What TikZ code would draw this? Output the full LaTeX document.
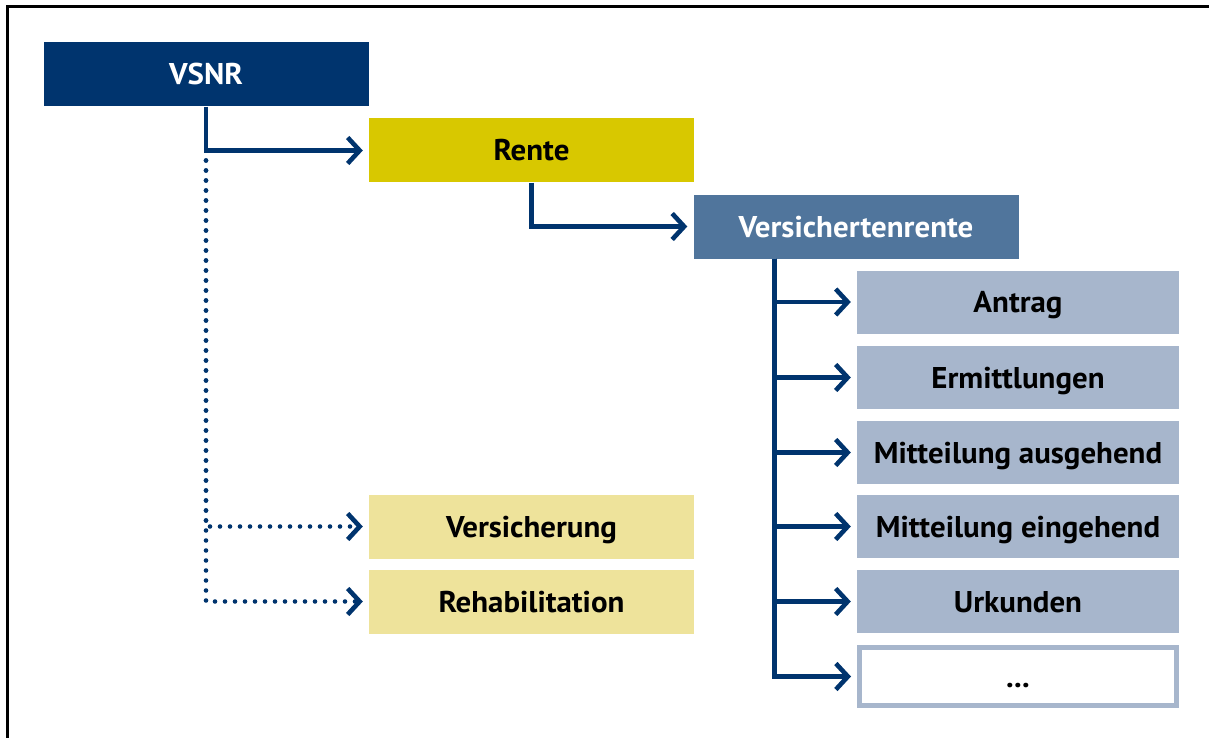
\documentclass[tikz,border=0pt]{standalone}
\usepackage{fontspec}
\setsansfont{PT Sans}
\usetikzlibrary{arrows.meta}
\definecolor{navy}{RGB}{0,52,110}
\definecolor{renteyellow}{RGB}{216,200,0}
\definecolor{paleyellow}{RGB}{238,227,155}
\definecolor{midblue}{RGB}{80,117,156}
\definecolor{lightblue}{RGB}{167,182,204}
\newcommand{\lbl}[1]{\scalebox{1.03}[1]{#1}}
\tikzset{
  box/.style={rectangle, inner sep=0pt, minimum width=325pt, minimum height=64pt,
    font=\sffamily\bfseries\fontsize{30}{34}\selectfont, text height=21pt, text depth=0pt},
  leaf/.style={box, minimum width=322pt, minimum height=63pt, fill=lightblue, text=black},
  conn/.style={draw=navy, line width=4.6pt, shorten >=6pt,
    -{Straight Barb[length=12pt, width=26pt, line width=4.6pt]}},
  dotconn/.style={conn, line cap=round, dash pattern=on 0pt off 10pt},
}
\begin{document}
\begin{tikzpicture}[x=1pt, y=-1pt]
  \useasboundingbox (0,0) rectangle (1209,738);
  % frame: left and top edges only
  \draw[line width=2.5pt, black] (7.5,738) -- (7.5,6.5) -- (1209,6.5);

  % main chain
  \node[box, fill=navy, text=white]        (vsnr)   at (206,74.5)    {\lbl{VSNR}};
  \node[box, fill=renteyellow, text=black] (rente)  at (531.5,150.5) {\lbl{Rente}};
  \node[box, fill=midblue, text=white]     (vrente) at (856,226.5)   {\lbl{Versichertenrente}};

  % other branches of VSNR
  \node[box, fill=paleyellow, text=black]  (versich) at (531.5,526.5) {\lbl{Versicherung}};
  \node[box, fill=paleyellow, text=black]  (reha)    at (531.5,601.5) {\lbl{Rehabilitation}};

  % documents of the pension case
  \node[leaf] (antrag) at (1018,302)   {\lbl{Antrag}};
  \node[leaf] (ermitt) at (1018,377.5) {\lbl{Ermittlungen}};
  \node[leaf] (mausg)  at (1018,452.5) {\lbl{Mitteilung ausgehend}};
  \node[leaf] (meing)  at (1018,526.5) {\lbl{Mitteilung eingehend}};
  \node[leaf] (urk)    at (1018,601.5) {\lbl{Urkunden}};
  \node[leaf, fill=white, draw=lightblue, line width=5pt, minimum width=317pt, minimum height=58pt]
              (more)   at (1018,676.5) {\lbl{...}};

  % connectors
  \draw[conn] (vsnr.south) |- (rente.west);
  \draw[conn] (rente.south) |- (vrente.west);

  \coordinate (fork)  at (vsnr.south |- rente.west);
  \draw[dotconn] ([yshift=-10pt]fork) |- (versich.west);
  \draw[dotconn] ([yshift=-10pt]fork) |- (reha.west);

  \coordinate (trunk) at ([xshift=81pt]vrente.south west);
  \foreach \n in {antrag, ermitt, mausg, meing, urk, more}
    \draw[conn] (trunk) |- (\n.west);
\end{tikzpicture}
\end{document}
